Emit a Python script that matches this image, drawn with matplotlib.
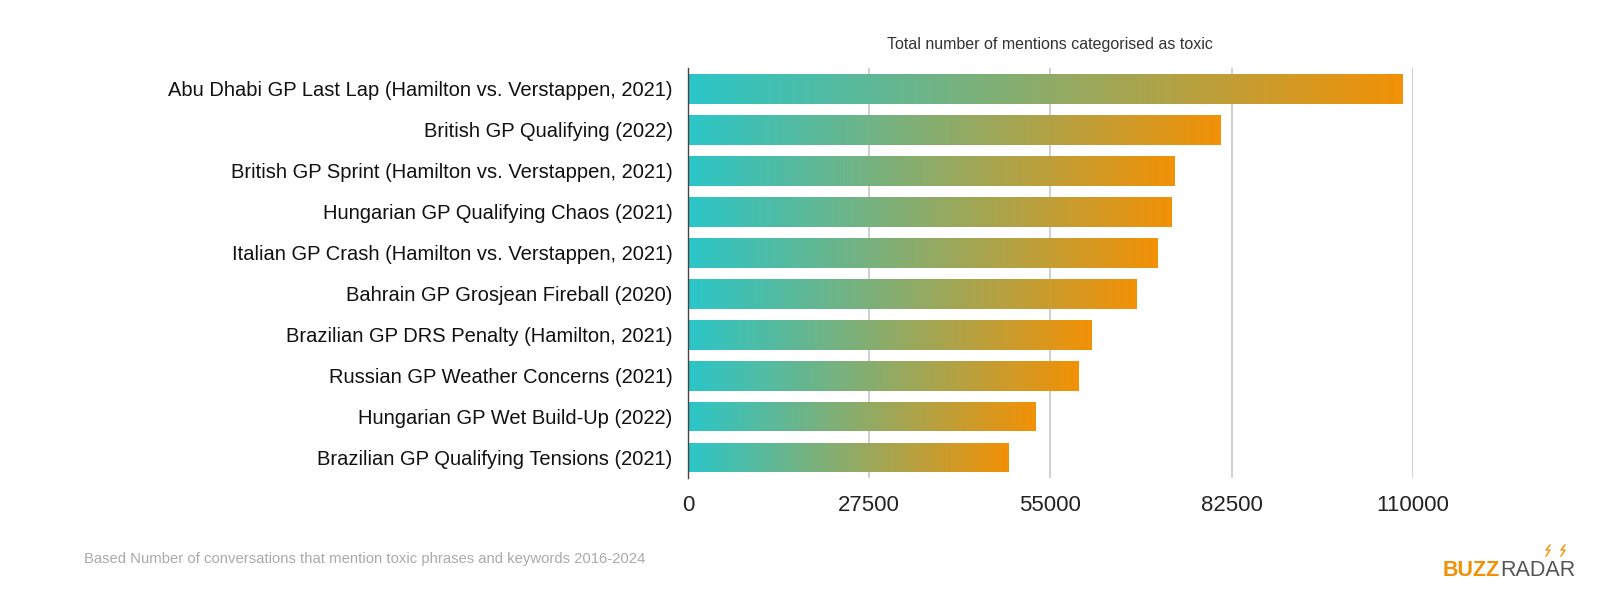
import matplotlib
matplotlib.use("Agg")
import matplotlib.pyplot as plt
import numpy as np
from matplotlib.colors import LinearSegmentedColormap

events = [
	"Abu Dhabi GP Last Lap (Hamilton vs. Verstappen, 2021)",
	"British GP Qualifying (2022)",
	"British GP Sprint (Hamilton vs. Verstappen, 2021)",
	"Hungarian GP Qualifying Chaos (2021)",
	"Italian GP Crash (Hamilton vs. Verstappen, 2021)",
	"Bahrain GP Grosjean Fireball (2020)",
	"Brazilian GP DRS Penalty (Hamilton, 2021)",
	"Russian GP Weather Concerns (2021)",
	"Hungarian GP Wet Build-Up (2022)",
	"Brazilian GP Qualifying Tensions (2021)",
]
mentions = [108400, 80800, 73800, 73300, 71200, 68000, 61300, 59200, 52700, 48700]
ticks = [0, 27500, 55000, 82500, 110000]

TEAL = "#2bc6c9"
ORANGE = "#f29106"
cmap = LinearSegmentedColormap.from_list("buzz", [TEAL, ORANGE])

plt.rcParams['font.family'] = ['Liberation Sans', 'DejaVu Sans']

fig = plt.figure(figsize=(16.06, 5.99), dpi=100)
ax = fig.add_axes([0.4284, 0.2020, 0.8798 - 0.4284, 0.886 - 0.2020])

y = np.arange(len(events))
bars = ax.barh(y, mentions, height=0.73, color="none", edgecolor="none", zorder=2)

# gradient fill, one per bar, running from the left edge to the bar end
grad = np.linspace(0, 1, 256).reshape(1, -1)
for b in bars:
	x0, y0 = b.get_x(), b.get_y()
	w, h = b.get_width(), b.get_height()
	im = ax.imshow(grad, cmap=cmap, aspect="auto", extent=(x0, x0 + w, y0 + h, y0),
		zorder=2, interpolation="bicubic")
	im.set_clip_path(b)

ax.set_xlim(0, 110000)
ax.set_ylim(len(events) - 0.5, -0.5)
ax.set_xticks(ticks)
ax.set_xticklabels([str(t) for t in ticks], fontsize=16, color="#222222")
ax.set_yticks(y)
ax.set_yticklabels(events, fontsize=14.5, color="#111111")
ax.tick_params(axis="y", length=0, pad=11)
ax.tick_params(axis="x", length=0, pad=12)
ax.grid(axis="x", color="#cccccc", linewidth=1.3, zorder=0)
ax.set_axisbelow(True)
for side in ["top", "right", "bottom"]:
	ax.spines[side].set_visible(False)
ax.spines["left"].set_color("#444444")
ax.spines["left"].set_linewidth(1)
ax.spines["left"].set_zorder(3)

fig.text(1050 / 1606, 1 - 44 / 599, "Total number of mentions categorised as toxic",
	ha="center", va="center", fontsize=11.5, color="#333333")

fig.text(84 / 1606, 1 - 559 / 599,
	"Based Number of conversations that mention toxic phrases and keywords 2016-2024",
	ha="left", va="center", fontsize=10.7, color="#aaaaaa")

# logo
buzz = fig.text(1443 / 1606, 1 - 576 / 599, "BUZZ", ha="left", va="baseline",
	fontsize=15.5, fontweight="bold", color=ORANGE)
fig.canvas.draw()
bb = buzz.get_window_extent()
fig.text(bb.x1 / 1606, 1 - 576 / 599, "RADAR", ha="left", va="baseline",
	fontsize=15.5, color="#555555")
for cx in [1548, 1563]:
	px = np.array([cx + 2, cx - 2, cx + 2, cx - 2])
	py = np.array([545, 550, 550, 556])
	fig.add_artist(plt.Line2D(px / 1606, 1 - py / 599, color=ORANGE, linewidth=1.0,
		transform=fig.transFigure))

fig.savefig("out.png", dpi=100)
